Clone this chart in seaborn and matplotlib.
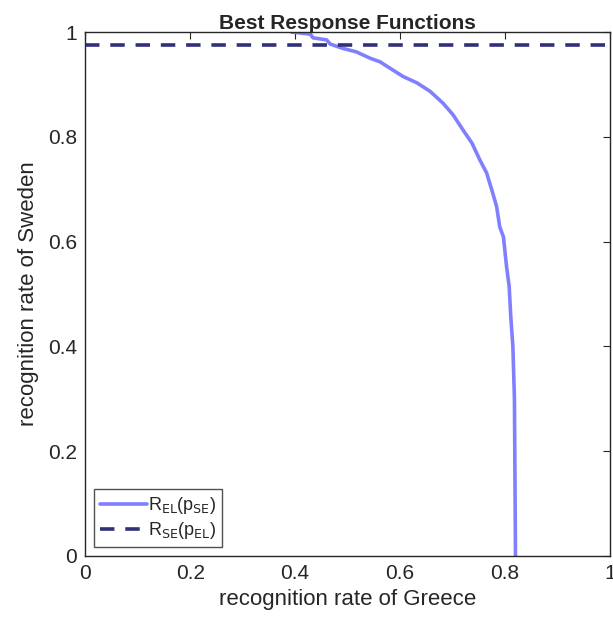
import numpy as np
import pandas as pd
import seaborn as sns
import matplotlib.pyplot as plt

# best response of Greece to Sweden's recognition rate
p_el = [0.393, 0.429, 0.434, 0.460, 0.467, 0.490, 0.517, 0.543, 0.562, 0.587,
        0.606, 0.632, 0.657, 0.682, 0.701, 0.720, 0.737, 0.752, 0.765, 0.775,
        0.784, 0.790, 0.797, 0.803, 0.808, 0.811, 0.815, 0.818, 0.819, 0.820]
p_se = [1.000, 0.996, 0.989, 0.985, 0.977, 0.969, 0.962, 0.950, 0.943, 0.927,
        0.915, 0.903, 0.887, 0.864, 0.842, 0.813, 0.788, 0.756, 0.731, 0.698,
        0.667, 0.628, 0.609, 0.552, 0.514, 0.457, 0.400, 0.300, 0.150, 0.000]

# best response of Sweden (flat)
se_x = [0.0, 1.0]
se_y = [0.975, 0.975]

sns.set_style("white")
plt.rcParams['font.family'] = ['Liberation Sans', 'DejaVu Sans']

fig = plt.figure(figsize=(6.13, 6.28), dpi=100)
ax = fig.add_axes([0.139, 0.115, 0.856, 0.834])

df_el = pd.DataFrame({"x": p_el, "y": p_se})
df_se = pd.DataFrame({"x": se_x, "y": se_y})

sns.lineplot(data=df_el, x="x", y="y", sort=False, estimator=None, ax=ax,
             color="#8080ff", linewidth=2.6,
             label=r"R$_{\mathrm{EL}}$(p$_{\mathrm{SE}}$)")
sns.lineplot(data=df_se, x="x", y="y", sort=False, estimator=None, ax=ax,
             color="#2f2f7a", linewidth=2.6, linestyle=(0, (4, 3)),
             label=r"R$_{\mathrm{SE}}$(p$_{\mathrm{EL}}$)")

ax.set_xlim(0, 1)
ax.set_ylim(0, 1)
ax.set_xticks([0, 0.2, 0.4, 0.6, 0.8, 1])
ax.set_xticklabels(["0", "0.2", "0.4", "0.6", "0.8", "1"])
ax.set_yticks([0, 0.2, 0.4, 0.6, 0.8, 1])
ax.set_yticklabels(["0", "0.2", "0.4", "0.6", "0.8", "1"])
ax.tick_params(direction="in", top=True, right=True, labelsize=15,
               length=5, width=0.8, colors="#262626", pad=6)
for s in ax.spines.values():
    s.set_color("#262626")
    s.set_linewidth(1.0)

ax.set_xlabel("recognition rate of Greece", fontsize=16, color="#262626",
              labelpad=4)
ax.set_ylabel("recognition rate of Sweden", fontsize=16, color="#262626",
              labelpad=6)
ax.set_title("Best Response Functions", fontsize=15, fontweight="bold", pad=2)

leg = ax.legend(loc="lower left", fontsize=13, frameon=True, fancybox=False,
                edgecolor="#262626", handlelength=2.6, handletextpad=0.1,
                borderpad=0.3, labelspacing=0.25, borderaxespad=0.5)
leg.get_frame().set_linewidth(1.0)

fig.savefig("out.png", dpi=100)
